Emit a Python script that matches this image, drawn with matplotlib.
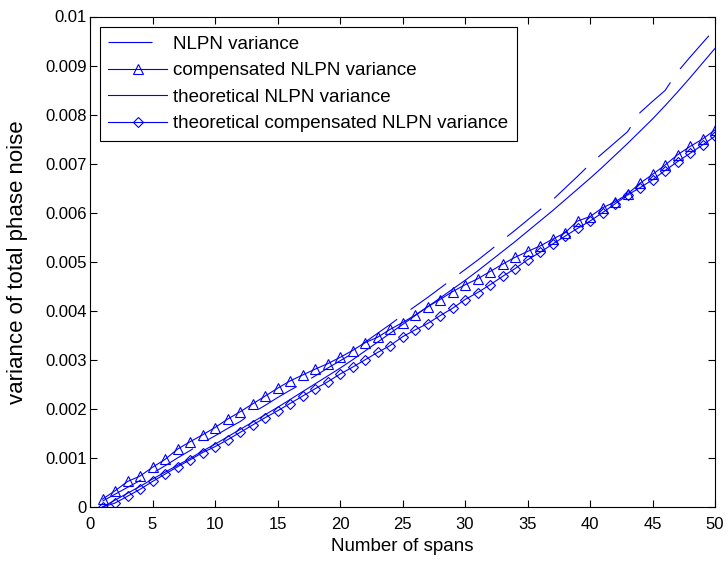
import numpy as np
import matplotlib
matplotlib.use('Agg')
import matplotlib.pyplot as plt

plt.rcParams['font.family'] = ['Liberation Sans', 'DejaVu Sans']
plt.rcParams['lines.scale_dashes'] = False

spans = np.arange(1, 51)

# simulated NLPN variance
nlpn_sim = [0.12, 0.26, 0.40, 0.54, 0.69, 0.84, 1.00, 1.15, 1.31, 1.45,
            1.60, 1.74, 1.92, 2.07, 2.23, 2.38, 2.52, 2.67, 2.83, 2.98,
            3.13, 3.36, 3.54, 3.72, 3.91, 4.09, 4.27, 4.46, 4.65, 4.84,
            5.03, 5.23, 5.44, 5.64, 5.85, 6.06, 6.26, 6.50, 6.74, 6.99,
            7.21, 7.43, 7.65, 8.04, 8.27, 8.49, 8.87, 9.17, 9.46, 9.75]

# simulated compensated NLPN variance
comp_sim = [0.16, 0.33, 0.52, 0.63, 0.81, 0.97, 1.18, 1.33, 1.47, 1.62,
            1.79, 1.94, 2.10, 2.26, 2.42, 2.57, 2.69, 2.81, 2.92, 3.05,
            3.19, 3.35, 3.46, 3.62, 3.76, 3.91, 4.08, 4.23, 4.39, 4.53,
            4.65, 4.80, 4.95, 5.09, 5.21, 5.32, 5.46, 5.59, 5.83, 5.92,
            6.10, 6.22, 6.38, 6.60, 6.78, 6.97, 7.18, 7.35, 7.50, 7.69]

# theoretical NLPN variance
nlpn_th = [0.00, 0.14, 0.28, 0.42, 0.57, 0.71, 0.85, 0.99, 1.14, 1.28,
           1.43, 1.58, 1.73, 1.88, 2.03, 2.19, 2.35, 2.51, 2.67, 2.83,
           3.00, 3.18, 3.36, 3.54, 3.72, 3.90, 4.08, 4.26, 4.44, 4.62,
           4.81, 5.01, 5.21, 5.41, 5.62, 5.83, 6.04, 6.26, 6.48, 6.70,
           6.93, 7.17, 7.41, 7.66, 7.91, 8.18, 8.46, 8.75, 9.05, 9.35]

# theoretical compensated NLPN variance
comp_th = [0.00, 0.08, 0.22, 0.36, 0.52, 0.67, 0.82, 0.96, 1.11, 1.23,
           1.37, 1.52, 1.67, 1.82, 1.96, 2.11, 2.26, 2.41, 2.55, 2.71,
           2.85, 3.00, 3.15, 3.29, 3.47, 3.61, 3.74, 3.90, 4.05, 4.23,
           4.37, 4.53, 4.70, 4.86, 5.04, 5.19, 5.36, 5.52, 5.68, 5.83,
           6.00, 6.18, 6.36, 6.51, 6.67, 6.86, 7.04, 7.21, 7.38, 7.56]

labels = ['NLPN variance', 'compensated NLPN variance',
          'theoretical NLPN variance', 'theoretical compensated NLPN variance']
yticks = ['0', '0.001', '0.002', '0.003', '0.004', '0.005',
          '0.006', '0.007', '0.008', '0.009', '0.01']

scale = 1e-3
blue = '#0000ff'
fs = 13.5

fig = plt.figure(figsize=(7.28, 5.63), dpi=100)
ax = fig.add_axes([90 / 728, 56 / 563, 625 / 728, 490.5 / 563])

ax.plot(spans, np.array(nlpn_sim) * scale, color=blue, lw=0.8,
        dashes=(31.7, 11.9), label=labels[0])
ax.plot(spans, np.array(comp_sim) * scale, color=blue, lw=0.8, marker='^',
        ms=7, mfc='none', mew=0.8, label=labels[1])
ax.plot(spans, np.array(nlpn_th) * scale, color=blue, lw=0.8, label=labels[2])
ax.plot(spans, np.array(comp_th) * scale, color=blue, lw=0.8, marker='D',
        ms=4.6, mfc='none', mew=0.8, label=labels[3])

ax.set_xlim(0, 50)
ax.set_ylim(0, 0.01)
ax.set_xticks(np.arange(0, 51, 5))
ax.set_yticks(np.arange(0, 11) * scale)
ax.set_yticklabels(yticks)
ax.tick_params(direction='in', top=True, right=True, length=5, width=0.8,
               labelsize=12)
ax.tick_params(axis='x', pad=7.5)
ax.tick_params(axis='y', pad=2.5)
for s in ax.spines.values():
    s.set_linewidth(0.8)

ax.set_xlabel('Number of spans', fontsize=fs, labelpad=4)
ax.set_ylabel('variance of total phase noise', fontsize=16, labelpad=12)

leg = ax.legend(loc='upper left', bbox_to_anchor=(10 / 625, 1 - 10.5 / 490.5),
                borderaxespad=0, fontsize=fs, handlelength=3.1,
                handletextpad=0.35, labelspacing=0.5, borderpad=0.45,
                fancybox=False, framealpha=1, edgecolor='black')
leg.get_frame().set_linewidth(0.8)

fig.savefig('out.png', dpi=100)
